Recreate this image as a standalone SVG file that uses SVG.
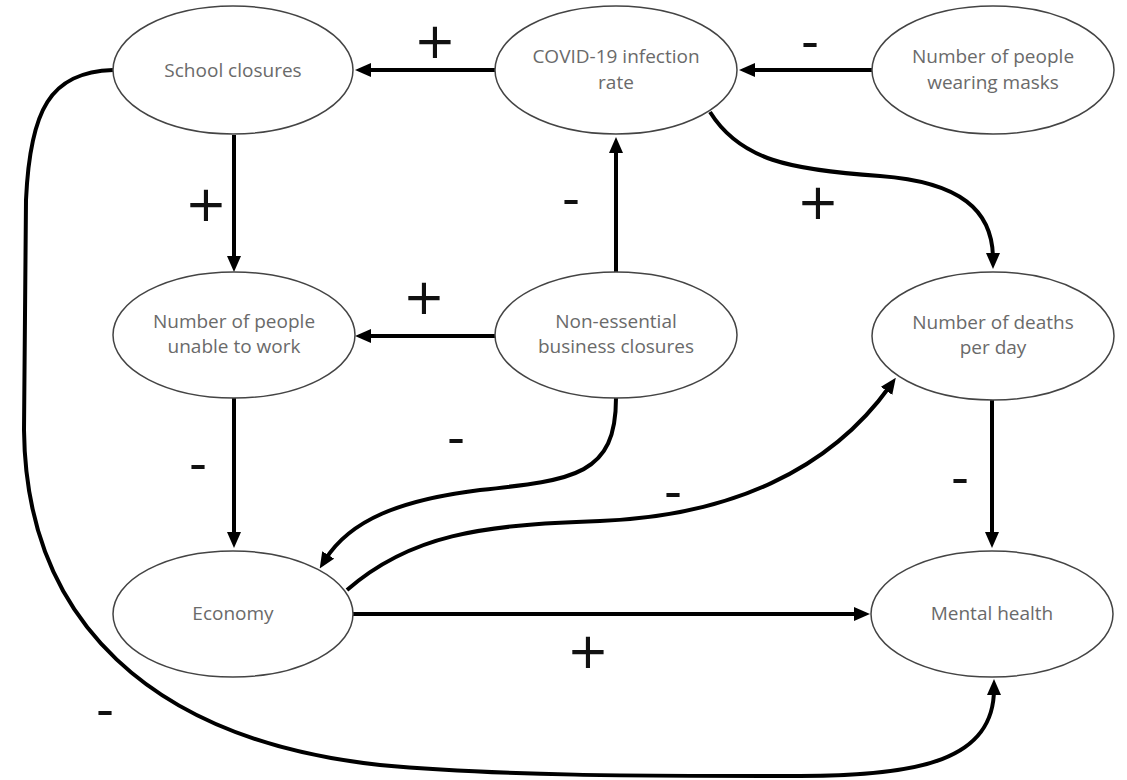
<svg xmlns="http://www.w3.org/2000/svg" width="1127" height="780" viewBox="0 0 1127 780">
<style>
.node ellipse{fill:#fff;stroke:#444;stroke-width:1.5}
.node text{font-family:"Open Sans","Liberation Sans",sans-serif;font-size:19px;fill:#6a6a6a;text-anchor:middle}
.conn path{fill:none;stroke:#000;stroke-width:4;marker-end:url(#arr)}
.sign{font-family:"DejaVu Sans",sans-serif;font-size:50px;fill:#111;text-anchor:middle}
</style>
<defs>
<marker id="arr" viewBox="0 0 16 14" markerWidth="16" markerHeight="14" refX="6" refY="7" orient="auto" markerUnits="userSpaceOnUse">
<path d="M0,0 L16,7 L0,14 z" fill="#000"/>
</marker>
</defs>
<rect width="1127" height="780" fill="#fff"/>
<g id="connectors" class="conn">
<path d="M495,70 L365,70"/>
<path d="M872,70 L749,70"/>
<path d="M234,135 L234,262"/>
<path d="M495,336 L365,336"/>
<path d="M616,272 L616,147"/>
<path d="M710,112 C740,160 790,170 880,176 C960,182 993,210 993,259"/>
<path d="M234,398 L234,538"/>
<path d="M616,398 C616,475 575,480 480,490 C400,500 350,520 325,560"/>
<path d="M347,590 C410,535 480,525 600,521 C730,516 830,470 890,386"/>
<path d="M353,614 L860,614"/>
<path d="M992,400 L992,538"/>
<path d="M113,70 C50,72 30,110 26,200 L24,430 C26,620 150,740 380,765 C500,776 640,776 800,776 C920,776 994,760 994,689"/>
</g>
<g id="labels">
<text class="sign" x="435" y="58">+</text>
<text class="sign" x="810" y="59">-</text>
<text class="sign" x="206" y="221">+</text>
<text class="sign" x="571" y="216">-</text>
<text class="sign" x="818" y="219">+</text>
<text class="sign" x="424" y="314">+</text>
<text class="sign" x="198" y="481">-</text>
<text class="sign" x="456" y="455">-</text>
<text class="sign" x="673" y="509">-</text>
<text class="sign" x="960" y="495">-</text>
<text class="sign" x="588" y="668">+</text>
<text class="sign" x="105" y="727">-</text>
</g>
<g id="school-closures" class="node"><ellipse cx="233" cy="70" rx="120" ry="64"/><text x="233" y="77">School closures</text></g>
<g id="covid-rate" class="node"><ellipse cx="616" cy="70" rx="121" ry="64"/><text x="616" y="63">COVID-19 infection</text><text x="616" y="89">rate</text></g>
<g id="masks" class="node"><ellipse cx="993" cy="70" rx="121" ry="64"/><text x="993" y="63">Number of people</text><text x="993" y="89">wearing masks</text></g>
<g id="unable-to-work" class="node"><ellipse cx="234" cy="335" rx="121" ry="63"/><text x="234" y="328">Number of people</text><text x="234" y="353">unable to work</text></g>
<g id="business-closures" class="node"><ellipse cx="616" cy="335" rx="121" ry="63"/><text x="616" y="328">Non-essential</text><text x="616" y="353">business closures</text></g>
<g id="deaths" class="node"><ellipse cx="993" cy="336" rx="121" ry="64"/><text x="993" y="329">Number of deaths</text><text x="993" y="354">per day</text></g>
<g id="economy" class="node"><ellipse cx="233" cy="614" rx="120" ry="63"/><text x="233" y="620">Economy</text></g>
<g id="mental-health" class="node"><ellipse cx="992" cy="614" rx="121" ry="63"/><text x="992" y="620">Mental health</text></g>
</svg>
